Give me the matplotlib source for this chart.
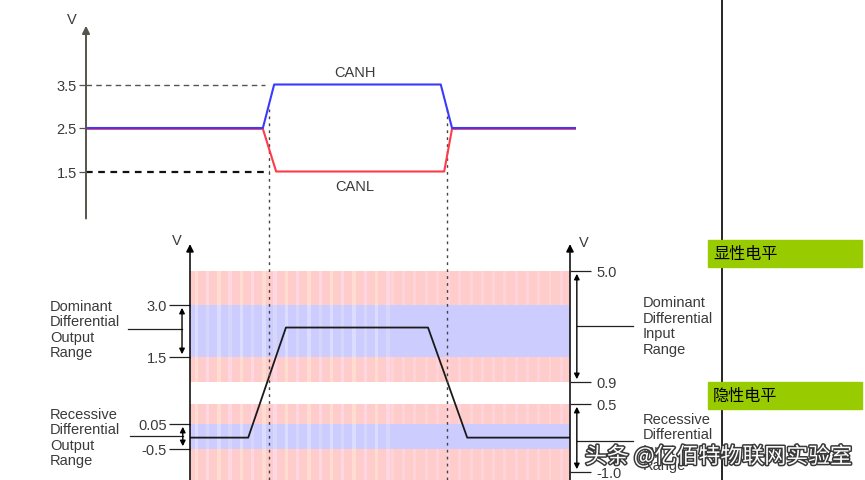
import numpy as np
import matplotlib
matplotlib.use("Agg")
import matplotlib.pyplot as plt
from matplotlib.lines import Line2D
from matplotlib.patches import Rectangle
from matplotlib.transforms import blended_transform_factory
import matplotlib.patheffects as pe

plt.rcParams['font.family'] = ['Liberation Sans', 'Noto Sans CJK SC', 'DejaVu Sans']

# ---------------- data ----------------
# time axis in arbitrary units (0..100)
canh_t = [0, 36.1, 38.4, 72.4, 74.7, 100]
canh_v = [2.5, 2.5, 3.5, 3.5, 2.5, 2.5]
canl_t = [0, 36.1, 38.8, 73.1, 74.7, 100]
canl_v = [2.48, 2.48, 1.5, 1.5, 2.48, 2.48]
top_ticks = [1.5, 2.5, 3.5]
top_ticklabels = ["1.5", "2.5", "3.5"]
edge_t = [37.3, 73.7]                       # dotted sampling lines

diff_t = [21.22, 33.1, 40.8, 69.8, 77.8, 98.78]
diff_v = [-0.25, -0.25, 2.35, 2.35, -0.25, -0.25]
out_ticks = [3.0, 1.5, 0.05, -0.5]
out_ticklabels = ["3.0", "1.5", "0.05", "-0.5"]
in_ticks = [5.0, 0.9, 0.5, -1.0]
in_ticklabels = ["5.0", "0.9", "0.5", "-1.0"]
band_edges = [5.0, 3.0, 1.5, 0.9, 0.5, 0.05, -0.5, -1.2]
band_kinds = ["pink", "blue", "pink", "white", "pink", "blue", "pink"]

# ---------------- layout helpers ----------------
W, H = 865, 481
def fx(px): return px / W
def fy(py): return 1 - py / H

fig = plt.figure(figsize=(W / 100, H / 100), dpi=100)
fig.patch.set_facecolor("white")

TXT = "#3a3a3a"
FS = 10.5

# ---------------- bottom (differential) chart ----------------
# non-linear (schematic) voltage scale
SC_V = np.array([-1.2, -1.0, -0.5, 0.05, 0.5, 0.9, 1.5, 3.0, 5.0, 7.2])
SC_P = np.array([482, 473, 450, 425, 405, 383, 358, 306, 272, 235], float)
def fwd(v):
    return -np.interp(v, SC_V, SC_P)
def inv(u):
    return np.interp(u, -SC_P, SC_V)

ax_b = fig.add_axes([fx(190), 0, fx(570) - fx(190), fy(235)])
ax_b.set_yscale('function', functions=(fwd, inv))
ax_b.set_ylim(-1.178, 7.2)
ax_b.set_xlim(21.22, 98.78)
ax_b.set_facecolor("none")
for s in ax_b.spines.values():
    s.set_visible(False)
ax_b.set_xticks([])
ax_b.set_zorder(1)

base = {"pink": "#FFCCCC", "blue": "#CCCCFF", "white": "white"}
stripe_a = {"pink": "#FFDCD0", "blue": "#DCDCFF"}
stripe_b = {"pink": "#FFD6E2", "blue": "#D6D6FA"}
stripe_x = np.arange(22.5, 62, 2.3)
stripe_x2 = np.arange(62.5, 98, 2.3)
for i, kind in enumerate(band_kinds):
    hi, lo = band_edges[i], band_edges[i + 1]
    ax_b.axhspan(lo, hi, color=base[kind], lw=0, zorder=0)
    if kind == "white":
        continue
    for j, xs in enumerate(stripe_x):
        c = stripe_a[kind] if j % 2 == 0 else stripe_b[kind]
        ax_b.bar(xs, hi - lo, bottom=lo, width=0.7, color=c, lw=0, zorder=0.5)
    if kind == "pink":
        for j, xs in enumerate(stripe_x2):
            ax_b.bar(xs, hi - lo, bottom=lo, width=0.6, color="#FFD3D8",
                     lw=0, zorder=0.5)

ax_b.plot(diff_t, diff_v, color="#1a1a1a", lw=1.3, zorder=3)

ax_b.set_yticks(out_ticks, out_ticklabels)
ax_b.tick_params(axis='y', which='both', length=15, width=0.9, color="#222",
                 direction='out', labelsize=FS, labelcolor=TXT, pad=1.5)
ax_b.yaxis.set_minor_locator(matplotlib.ticker.NullLocator())

ax_r = ax_b.twinx()
ax_r.set_yscale('function', functions=(fwd, inv))
ax_r.set_ylim(-1.178, 7.2)
ax_r.set_facecolor("none")
for s in ax_r.spines.values():
    s.set_visible(False)
ax_r.set_yticks(in_ticks, in_ticklabels)
ax_r.yaxis.set_minor_locator(matplotlib.ticker.NullLocator())
ax_r.tick_params(axis='y', which='both', length=15, width=0.9, color="#222",
                 direction='out', labelsize=FS, labelcolor=TXT, pad=4)

# axis arrows
for xa in (21.22, 98.78):
    ax_b.annotate('', xy=(xa, 6.6), xytext=(xa, -1.178),
                  arrowprops=dict(arrowstyle='-|>', color='black', lw=1.1,
                                  mutation_scale=11, shrinkA=0, shrinkB=0),
                  annotation_clip=False, zorder=4)

bt = blended_transform_factory(ax_b.transAxes, ax_b.transData)
def dbl_arrow(xf, v0, v1):
    ax_b.annotate('', xy=(xf, v1), xytext=(xf, v0), xycoords=bt, textcoords=bt,
                  arrowprops=dict(arrowstyle='<|-|>', color='black', lw=1,
                                  mutation_scale=8, shrinkA=2, shrinkB=2),
                  annotation_clip=False)
def hline(x0, x1, v):
    ax_b.plot([x0, x1], [v, v], color="#222", lw=0.9, transform=bt, clip_on=False)

dbl_arrow(-0.021, 3.0, 1.5)
dbl_arrow(-0.019, 0.05, -0.5)
hline(-0.163, -0.021, 2.3)
hline(-0.158, -0.019, -0.214)
dbl_arrow(1.018, 5.0, 0.9)
dbl_arrow(1.018, 0.5, -1.0)
hline(1.018, 1.166, 2.39)
hline(1.018, 1.166, -0.32)

# ---------------- top (CANH / CANL) chart ----------------
ax_t = fig.add_axes([fx(86), 0, fx(576) - fx(86), 1])
ax_t.set_xlim(0, 100)
ax_t.set_ylim(2.5 - (481 - 129) / 43.5, 2.5 + 129 / 43.5)
ax_t.set_facecolor("none")
ax_t.set_zorder(3)
for s in ax_t.spines.values():
    s.set_visible(False)
ax_t.set_xticks([])
ax_t.set_yticks(top_ticks, top_ticklabels)
ax_t.tick_params(axis='y', length=5, width=0.9, color="#555", direction='out',
                 labelsize=FS, labelcolor=TXT, pad=1.5)

ax_t.annotate('', xy=(0, 4.85), xytext=(0, 0.42),
              arrowprops=dict(arrowstyle='-|>', color='#55554a', lw=1.4,
                              mutation_scale=11, shrinkA=0, shrinkB=0),
              annotation_clip=False)

ax_t.plot([0, 36.5], [3.5, 3.5], color="#555", lw=1, dashes=(4, 3))
ax_t.plot([0, 37.5], [1.5, 1.5], color="#111", lw=1.6, dashes=(3, 2.5))
for te in edge_t:
    ax_t.plot([te, te], [2.94, -5.6], color="#444", lw=1, dashes=(2, 3))

ax_t.plot(canl_t, canl_v, color="#FF3A4A", lw=1.5)
ax_t.plot(canh_t, canh_v, color="#3A3AFF", lw=1.5)
ax_t.text(54.9, 3.79, "CANH", fontsize=FS, color=TXT, ha='center', va='center')
ax_t.text(54.9, 1.17, "CANL", fontsize=FS, color=TXT, ha='center', va='center')

# ---------------- figure-level text & decorations ----------------
def ftxt(px, py, s, **kw):
    kw.setdefault('fontsize', FS)
    kw.setdefault('color', TXT)
    kw.setdefault('va', 'center')
    return fig.text(fx(px), fy(py), s, **kw)

ftxt(72, 20, "V", ha='center')
ftxt(177, 241, "V", ha='center')
ftxt(584, 243, "V", ha='center')

ls = 1.15
ftxt(50, 330, "Dominant\nDifferential\nOutput\nRange", linespacing=ls)
ftxt(50, 438, "Recessive\nDifferential\nOutput\nRange", linespacing=ls)
ftxt(643, 326.5, "Dominant\nDifferential\nInput\nRange", linespacing=ls)
ftxt(643, 443, "Recessive\nDifferential\nInput\nRange", linespacing=ls)

fig.add_artist(Line2D([fx(722), fx(722)], [0, 1], color="black", lw=1.2,
                      transform=fig.transFigure, zorder=4))

for ytop, label in ((241, "显性电平"), (383, "隐性电平")):
    fig.add_artist(Rectangle((fx(708), fy(ytop + 27)), fx(862) - fx(708),
                             27 / H, color="#99CC00", transform=fig.transFigure,
                             zorder=5))
    ftxt(713, ytop + 13.5, label, fontsize=11.6, color="black",
         family=['Noto Sans CJK SC', 'DejaVu Sans'], zorder=6)

ftxt(585, 458, "头条 @亿佰特物联网实验室", fontsize=15.8, color="white",
     family=['Noto Sans CJK SC', 'DejaVu Sans'], zorder=10,
     path_effects=[pe.withStroke(linewidth=2.2, foreground="#3a3a3a")])

fig.savefig("out.png", dpi=100)
